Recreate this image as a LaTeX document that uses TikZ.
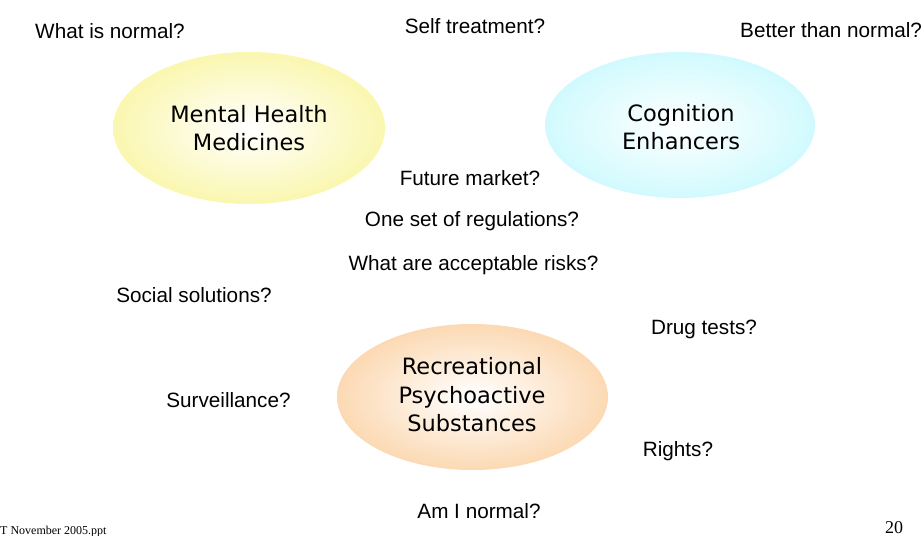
\documentclass[tikz,border=0pt]{standalone}
\usepackage{fontspec}
\setmainfont{Liberation Sans}
\newfontfamily\ellfont{DejaVu Sans}
\newfontfamily\footfont{Liberation Serif}
\definecolor{yellowc}{RGB}{248,243,140}
\definecolor{cyanc}{RGB}{188,248,253}
\definecolor{orangec}{RGB}{250,200,145}
\pgfdeclareradialshading{yshade}{\pgfpoint{0bp}{0bp}}{color(0bp)=(white);color(4bp)=(white!90!yellowc);color(36bp)=(yellowc);color(50bp)=(yellowc)}
\pgfdeclareradialshading{cshade}{\pgfpoint{0bp}{0bp}}{color(0bp)=(white);color(4bp)=(white!90!cyanc);color(36bp)=(cyanc);color(50bp)=(cyanc)}
\pgfdeclareradialshading{oshade}{\pgfpoint{0bp}{0bp}}{color(0bp)=(white);color(4bp)=(white!90!orangec);color(36bp)=(orangec);color(50bp)=(orangec)}
\tikzset{
  qtext/.style={anchor=base, inner sep=0pt, font=\fontsize{20.7}{24}\selectfont},
  elltext/.style={align=center, inner sep=0pt, font=\ellfont\fontsize{22.5}{28.5}\selectfont},
}
\begin{document}
\begin{tikzpicture}[x=1pt,y=-1pt]
\useasboundingbox (0,0) rectangle (922,536);
% ellipses
\shade[shading=yshade] (249,128) ellipse [x radius=136, y radius=76];
\shade[shading=cshade] (680,125) ellipse [x radius=135, y radius=73];
\shade[shading=oshade] (472.5,397) ellipse [x radius=135.5, y radius=73];
\node[elltext] (mhm) at (249,128) {Mental Health\\Medicines};
\node[elltext] (ce) at (681,127) {Cognition\\Enhancers};
\node[elltext] (rps) at (472,395) {Recreational\\Psychoactive\\Substances};
% questions
\node[qtext] (q1) at (110,38) {What is normal?};
\node[qtext] (q2) at (475,33) {Self treatment?};
\node[qtext, anchor=base west] (q3) at (740,37) {Better than normal?};
\node[qtext] (q4) at (470,185) {Future market?};
\node[qtext] (q5) at (472,226) {One set of regulations?};
\node[qtext] (q6) at (473.5,270) {What are acceptable risks?};
\node[qtext] (q7) at (194,302) {Social solutions?};
\node[qtext] (q8) at (704,334.5) {Drug tests?};
\node[qtext] (q9) at (228.5,407) {Surveillance?};
\node[qtext] (q10) at (678,456.7) {Rights?};
\node[qtext] (q11) at (479,518) {Am I normal?};
% footer
\node[anchor=base west, inner sep=0pt, font=\footfont\fontsize{12}{14}\selectfont] (foot) at (0,534) {T November 2005.ppt};
\node[anchor=base west, inner sep=0pt, font=\footfont\fontsize{18}{20}\selectfont] (pg) at (885,533) {20};
\end{tikzpicture}
\end{document}
